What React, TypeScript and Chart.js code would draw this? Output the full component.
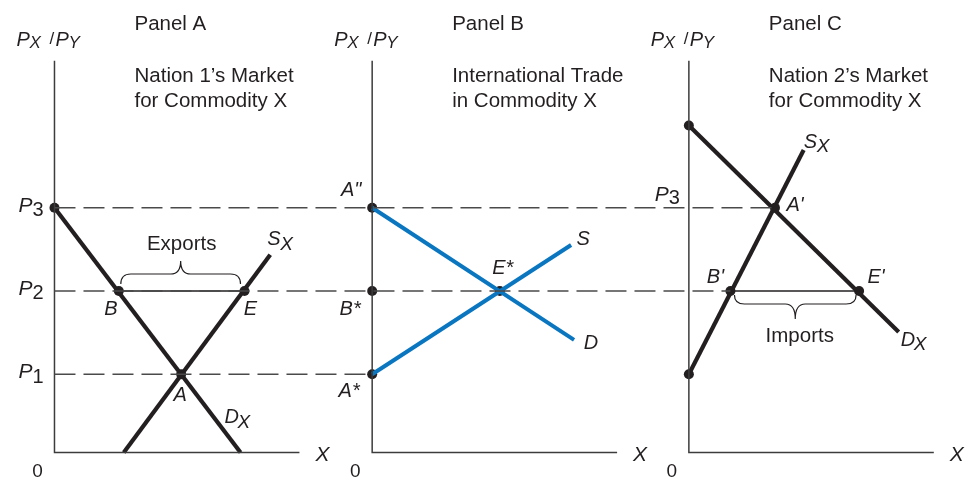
import React, { useEffect, useRef } from "react";
import { Chart, registerables } from "chart.js";

Chart.register(...registerables);

// ---------------- DATA (quantity q along X, relative price p = PX/PY) ----------------
const priceLevelNames = ["P1", "P2", "P3"];
const priceLevels = [16, 33, 50];
const axisPriceMax = 80;
const axisQuantityMax = 49.5;

const panelNames = ["Panel A", "Panel B", "Panel C"];
const panelTitleLine1 = ["Nation 1\u2019s Market", "International Trade", "Nation 2\u2019s Market"];
const panelTitleLine2 = ["for Commodity X", "in Commodity X", "for Commodity X"];

// Panel A: Nation 1's market
const nation1DemandQ = [0, 37.6];
const nation1DemandP = [50, 0];
const nation1SupplyQ = [14, 43.6];
const nation1SupplyP = [0, 40.4];
const nation1PointNames = ["P3", "B", "E", "A"];
const nation1PointQ = [0, 13, 38.4, 25.6];
const nation1PointP = [50, 33, 33, 16];

// Panel B: international trade
const tradeDemandQ = [0, 40.8];
const tradeDemandP = [50, 23];
const tradeSupplyQ = [0, 40.2];
const tradeSupplyP = [16, 42.4];
const tradePointNames = ['A"', "B*", "A*", "E*"];
const tradePointQ = [0, 0, 0, 25.8];
const tradePointP = [50, 33, 16, 33];

// Panel C: Nation 2's market
const nation2DemandQ = [0, 42.4];
const nation2DemandP = [66.8, 24.6];
const nation2SupplyQ = [0, 23.2];
const nation2SupplyP = [16, 61.8];
const nation2PointNames = ["D0", "S0", "B'", "A'", "E'"];
const nation2PointQ = [0, 0, 8.4, 17.4, 34.4];
const nation2PointP = [66.8, 16, 33, 50, 33];

// traded quantities at P2
const exportsQ = [13, 38.4];
const importsQ = [8.4, 34.4];

// ---------------- LAYOUT ----------------
const W = 969;
const H = 485;
const UNIT = 5; // px per data unit
const BASELINE = 457; // px of zero price
const panelAxisPx = [50, 371, 691];
const FONT = '"Liberation Sans", Arial, Helvetica, sans-serif';
const INK = "#231f20";
const BLUE = "#0b76c0";
const DASH_GREY = "#4a4a4a";

const gx = (panel: number, q: number) => panelAxisPx[panel] / UNIT + q;
const pts = (panel: number, qs: number[], ps: number[]) => qs.map((q, i) => ({ x: gx(panel, q), y: ps[i] }));

function lineDs(data: any[], color: string, width: number, dash: number[] = []) {
  return {
    type: "line" as const,
    data,
    showLine: true,
    borderColor: color,
    backgroundColor: color,
    borderWidth: width,
    borderDash: dash,
    pointRadius: 0,
    fill: false,
    tension: 0,
    borderCapStyle: "butt" as const,
  };
}

function drawRich(ctx: CanvasRenderingContext2D, parts: { t: string; size: number; italic?: boolean; dx: number; dy: number }[], x: number, y: number) {
  for (const p of parts) {
    ctx.font = `${p.italic ? "italic " : ""}${p.size}px ${FONT}`;
    ctx.textAlign = "left";
    ctx.textBaseline = "middle";
    ctx.fillText(p.t, x + p.dx, y + p.dy);
  }
}

function brace(ctx: CanvasRenderingContext2D, x1: number, x2: number, yEnd: number, yMid: number, yTip: number) {
  const mid = (x1 + x2) / 2;
  const r = 10;
  ctx.beginPath();
  ctx.moveTo(x1, yEnd);
  ctx.quadraticCurveTo(x1, yMid, x1 + r, yMid);
  ctx.lineTo(mid - r, yMid);
  ctx.quadraticCurveTo(mid, yMid, mid, yTip);
  ctx.quadraticCurveTo(mid, yMid, mid + r, yMid);
  ctx.lineTo(x2 - r, yMid);
  ctx.quadraticCurveTo(x2, yMid, x2, yEnd);
  ctx.stroke();
}

const textPlugin = {
  id: "econText",
  afterDatasetsDraw(chart: any) {
    const ctx: CanvasRenderingContext2D = chart.ctx;
    const xs = chart.scales.x;
    const ys = chart.scales.y;
    const X = (panel: number, q: number) => xs.getPixelForValue(gx(panel, q));
    const Y = (p: number) => ys.getPixelForValue(p);
    ctx.save();
    ctx.fillStyle = INK;
    ctx.strokeStyle = INK;

    for (let i = 0; i < 3; i++) {
      const ax = X(i, 0);
      const base = Y(0);
      // titles
      ctx.font = `20.5px ${FONT}`;
      ctx.textAlign = "left";
      ctx.textBaseline = "middle";
      ctx.fillText(panelNames[i], ax + 80, 24);
      ctx.fillText(panelTitleLine1[i], ax + 80, 76);
      ctx.fillText(panelTitleLine2[i], ax + 80, 101);
      // PX/PY
      drawRich(ctx, [
        { t: "P", size: 20, italic: true, dx: -38, dy: 0 },
        { t: "X", size: 17, italic: true, dx: -25, dy: 3 },
        { t: "/", size: 17, dx: -5, dy: -1 },
        { t: "P", size: 20, italic: true, dx: 1, dy: 0 },
        { t: "Y", size: 17, italic: true, dx: 14, dy: 3 },
      ], ax, 40);
      // origin 0
      ctx.font = `19px ${FONT}`;
      ctx.textAlign = "center";
      ctx.fillText("0", ax - 17, base + 19);
      // X axis label
      ctx.font = `italic 21px ${FONT}`;
      ctx.fillText("X", X(i, axisQuantityMax) + 23, base + 3);
    }

    // price tick labels in panel A
    const axA = X(0, 0);
    priceLevelNames.forEach((name, i) => {
      const y = Y(priceLevels[i]);
      drawRich(ctx, [
        { t: name[0], size: 21, italic: true, dx: -36, dy: -2 },
        { t: name.slice(1), size: 20, dx: -22, dy: 3 },
      ], axA, y);
    });
    // P3 in panel C
    drawRich(ctx, [
      { t: "P", size: 21, italic: true, dx: -34, dy: -13 },
      { t: "3", size: 20, dx: -20, dy: -9 },
    ], X(2, 0), Y(priceLevels[2]));

    const lab = (t: string, x: number, y: number, size = 20) => {
      ctx.font = `italic ${size}px ${FONT}`;
      ctx.textAlign = "center";
      ctx.textBaseline = "middle";
      ctx.fillText(t, x, y);
    };
    const sub = (a: string, b: string, x: number, y: number) =>
      drawRich(ctx, [
        { t: a, size: 20, italic: true, dx: 0, dy: 0 },
        { t: b, size: 19, italic: true, dx: 13, dy: 5 },
      ], x, y);

    // Panel A labels
    lab(nation1PointNames[1], X(0, nation1PointQ[1]) - 8, Y(nation1PointP[1]) + 18);
    lab(nation1PointNames[2], X(0, nation1PointQ[2]) + 6, Y(nation1PointP[2]) + 18);
    lab(nation1PointNames[3], X(0, nation1PointQ[3]) - 1, Y(nation1PointP[3]) + 21);
    sub("D", "X", X(0, nation1DemandQ[1]) - 16, Y(nation1DemandP[1]) - 35);
    sub("S", "X", X(0, nation1SupplyQ[1]) - 3, Y(nation1SupplyP[1]) - 15);
    const p2 = Y(priceLevels[1]);
    const exL = X(0, exportsQ[0]);
    const exR = X(0, exportsQ[1]);
    ctx.font = `20.5px ${FONT}`;
    ctx.textAlign = "center";
    ctx.fillText("Exports", (exL + exR) / 2, p2 - 47);
    ctx.lineWidth = 1.2;
    brace(ctx, exL + 2, exR - 4, p2 - 7, p2 - 17, p2 - 30);

    // Panel B labels
    lab(tradePointNames[0], X(1, 0) - 21, Y(tradePointP[0]) - 17);
    lab(tradePointNames[1], X(1, 0) - 22, Y(tradePointP[1]) + 18);
    lab(tradePointNames[2], X(1, 0) - 23, Y(tradePointP[2]) + 17);
    lab(tradePointNames[3], X(1, tradePointQ[3]) + 3, Y(tradePointP[3]) - 23);
    lab("S", X(1, tradeSupplyQ[1]) + 12, Y(tradeSupplyP[1]) - 6);
    lab("D", X(1, tradeDemandQ[1]) + 17, Y(tradeDemandP[1]) + 3);

    // Panel C labels
    lab(nation2PointNames[3], X(2, nation2PointQ[3]) + 20, Y(nation2PointP[3]) - 2);
    lab(nation2PointNames[2], X(2, nation2PointQ[2]) - 15, Y(nation2PointP[2]) - 14);
    lab(nation2PointNames[4], X(2, nation2PointQ[4]) + 17, Y(nation2PointP[4]) - 14);
    sub("S", "X", X(2, nation2SupplyQ[1]) + 0, Y(nation2SupplyP[1]) - 8);
    sub("D", "X", X(2, nation2DemandQ[1]) + 2, Y(nation2DemandP[1]) + 8);
    const imL = X(2, importsQ[0]);
    const imR = X(2, importsQ[1]);
    ctx.font = `20.5px ${FONT}`;
    ctx.textAlign = "center";
    ctx.fillText("Imports", (imL + imR) / 2 + 5, p2 + 45);
    ctx.lineWidth = 1.2;
    brace(ctx, imL + 4, imR - 3, p2 + 4, p2 + 13, p2 + 28);

    ctx.restore();
  },
};

export default function App() {
  const ref = useRef<HTMLCanvasElement | null>(null);

  useEffect(() => {
    if (!ref.current) return;
    const datasets: any[] = [];
    // dashed price guides
    datasets.push(lineDs([{ x: gx(0, 0), y: priceLevels[2] }, { x: gx(2, nation2PointQ[3]), y: priceLevels[2] }], DASH_GREY, 1.5, [21, 8]));
    datasets.push(lineDs([{ x: gx(0, 0), y: priceLevels[1] }, { x: gx(2, nation2PointQ[2]), y: priceLevels[1] }], DASH_GREY, 1.5, [21, 8]));
    datasets.push(lineDs([{ x: gx(0, 0), y: priceLevels[0] }, { x: gx(1, 0), y: priceLevels[0] }], DASH_GREY, 1.5, [21, 8]));
    // solid traded segments
    datasets.push(lineDs(pts(0, exportsQ, [priceLevels[1], priceLevels[1]]), INK, 1.5));
    datasets.push(lineDs(pts(2, importsQ, [priceLevels[1], priceLevels[1]]), INK, 1.5));
    // axes
    for (let i = 0; i < 3; i++) {
      datasets.push(lineDs(pts(i, [0, 0, axisQuantityMax], [axisPriceMax, 0, 0]), "#3c3c3c", 1.5));
    }
    // curves
    datasets.push(lineDs(pts(0, nation1DemandQ, nation1DemandP), INK, 4.2));
    datasets.push(lineDs(pts(0, nation1SupplyQ, nation1SupplyP), INK, 4.2));
    datasets.push(lineDs(pts(1, tradeDemandQ, tradeDemandP), BLUE, 4));
    datasets.push(lineDs(pts(1, tradeSupplyQ, tradeSupplyP), BLUE, 4));
    datasets.push(lineDs(pts(2, nation2DemandQ, nation2DemandP), INK, 4.2));
    datasets.push(lineDs(pts(2, nation2SupplyQ, nation2SupplyP), INK, 4.2));
    // dots
    datasets.push({
      type: "scatter",
      data: [
        ...pts(0, nation1PointQ, nation1PointP),
        ...pts(1, tradePointQ, tradePointP),
        ...pts(2, nation2PointQ, nation2PointP),
      ],
      showLine: false,
      pointRadius: 5,
      pointBackgroundColor: INK,
      pointBorderWidth: 0,
      clip: false,
    });

    const chart = new Chart(ref.current, {
      type: "scatter",
      data: { datasets },
      options: {
        responsive: false,
        animation: false,
        events: [],
        layout: { padding: 0 },
        plugins: { legend: { display: false }, tooltip: { enabled: false } },
        scales: {
          x: { type: "linear", min: 0, max: W / UNIT, display: false },
          y: { type: "linear", min: -(H - BASELINE) / UNIT, max: BASELINE / UNIT, display: false },
        },
      },
      plugins: [textPlugin],
    } as any);
    return () => chart.destroy();
  }, []);

  return (
    <div style={{ position: "absolute", left: 0, top: 0, width: W, height: H, background: "#fff" }}>
      <canvas ref={ref} width={W} height={H} style={{ display: "block", width: W, height: H }} />
    </div>
  );
}
